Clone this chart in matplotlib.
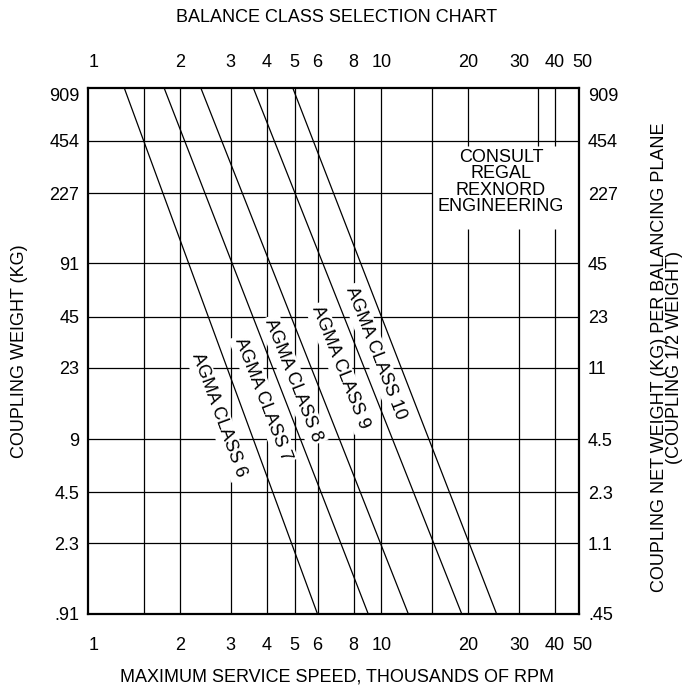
import numpy as np
import matplotlib
matplotlib.use('Agg')
import matplotlib.pyplot as plt
import matplotlib.transforms as mtransforms

plt.rcParams['font.family'] = ['Liberation Sans', 'DejaVu Sans']

# speed in thousands of rpm (x), coupling weight in kg (y)
speed_labels = [1, 2, 3, 4, 5, 6, 8, 10, 20, 30, 40, 50]
speed_grid = [1.5, 2, 3, 4, 5, 6, 8, 10, 15]
speed_grid_upper = [20, 35, 40]     # short lines above the CONSULT box
speed_grid_lower = [20, 30, 40]     # lines below the CONSULT box
weight_ticks = [909, 454, 227, 91, 45, 23, 9, 4.5, 2.3, 0.91]
weight_left = ['909', '454', '227', '91', '45', '23', '9', '4.5', '2.3', '.91']
weight_right = ['909', '454', '227', '45', '23', '11', '4.5', '2.3', '1.1', '.45']
weight_grid = [454, 91, 45, 23, 9, 4.5, 2.3]
weight_box_top = 423
weight_box_bottom = 142

classes = ['AGMA CLASS 6', 'AGMA CLASS 7', 'AGMA CLASS 8', 'AGMA CLASS 9', 'AGMA CLASS 10']
speed_at_909 = [1.28, 1.76, 2.36, 3.59, 4.92]
speed_at_091 = [6.0, 9.0, 12.4, 19.0, 25.1]
label_speed = [2.72, 3.89, 4.94, 7.18, 9.55]
label_weight = [12.4, 15.3, 19.6, 23.1, 27.8]

W, H = 688, 686
fig = plt.figure(figsize=(W / 100, H / 100), dpi=100)
ax = fig.add_axes([87.7 / W, 1 - 614 / H, 491 / W, 526.3 / H])
ax.set_xscale('log')
ax.set_yscale('log')
ax.set_xlim(0.9566, 48.36)
ax.set_ylim(0.91, 909)
ax.xaxis.set_major_locator(plt.NullLocator())
ax.xaxis.set_minor_locator(plt.NullLocator())
ax.yaxis.set_major_locator(plt.NullLocator())
ax.yaxis.set_minor_locator(plt.NullLocator())
for sp in ax.spines.values():
    sp.set_linewidth(1.6)
    sp.set_zorder(5)

fs = 13
lw = 0.9
# grid
ax.vlines(speed_grid, 0.91, 909, color='black', lw=lw, zorder=1)
ax.vlines(speed_grid_upper, weight_box_top, 909, color='black', lw=lw, zorder=1)
ax.vlines(speed_grid_lower, 0.91, weight_box_bottom, color='black', lw=lw, zorder=1)
ax.hlines(weight_grid, 0.9566, 48.36, color='black', lw=lw, zorder=1)
ax.hlines([227], 0.9566, 15, color='black', lw=lw, zorder=1)

# class lines
for i in range(len(classes)):
    ax.plot([speed_at_909[i], speed_at_091[i]], [909, 0.91], color='black', lw=lw, zorder=3)
    p = ax.transData.transform([[speed_at_909[i], 909], [speed_at_091[i], 0.91]])
    ang = np.degrees(np.arctan2(p[1, 1] - p[0, 1], p[1, 0] - p[0, 0]))
    ax.text(label_speed[i], label_weight[i], classes[i], rotation=ang, ha='center', va='center',
            fontsize=fs, zorder=2, bbox=dict(facecolor='white', edgecolor='none', pad=2))

ax.text(26, 264, 'CONSULT\nREGAL\nREXNORD\nENGINEERING', ha='center', va='center',
        multialignment='center', fontsize=fs, linespacing=0.95, zorder=2)

# tick labels
tr_x = mtransforms.blended_transform_factory(ax.transData, ax.transAxes)
for s in speed_labels:
    ax.text(s, 1.0386, str(s), transform=tr_x, ha='center', va='baseline', fontsize=fs, clip_on=False)
    ax.text(s, -0.0684, str(s), transform=tr_x, ha='center', va='baseline', fontsize=fs, clip_on=False)
tr_y = mtransforms.blended_transform_factory(ax.transAxes, ax.transData)
for w, l1, l2 in zip(weight_ticks, weight_left, weight_right):
    va = 'top' if w == 909 else 'center_baseline'
    ax.text(-0.0171, w, l1, transform=tr_y, ha='right', va=va, fontsize=fs, clip_on=False)
    ax.text(1.019, w, l2, transform=tr_y, ha='left', va=va, fontsize=fs, clip_on=False)

fig.text(337 / W, 1 - 18 / H, 'BALANCE CLASS SELECTION CHART', ha='center', va='center', fontsize=fs)
fig.text(337 / W, 1 - 682 / H, 'MAXIMUM SERVICE SPEED, THOUSANDS OF RPM', ha='center', va='baseline', fontsize=fs)
fig.text(20 / W, 1 - 351 / H, 'COUPLING WEIGHT (KG)', rotation=90, ha='center', va='center', fontsize=fs)
fig.text(667 / W, 1 - 357 / H, 'COUPLING NET WEIGHT (KG) PER BALANCING PLANE\n(COUPLING 1/2 WEIGHT)',
         rotation=90, ha='center', va='center', multialignment='center', linespacing=0.9, fontsize=fs)

fig.savefig('out.png', dpi=100, facecolor='white')
